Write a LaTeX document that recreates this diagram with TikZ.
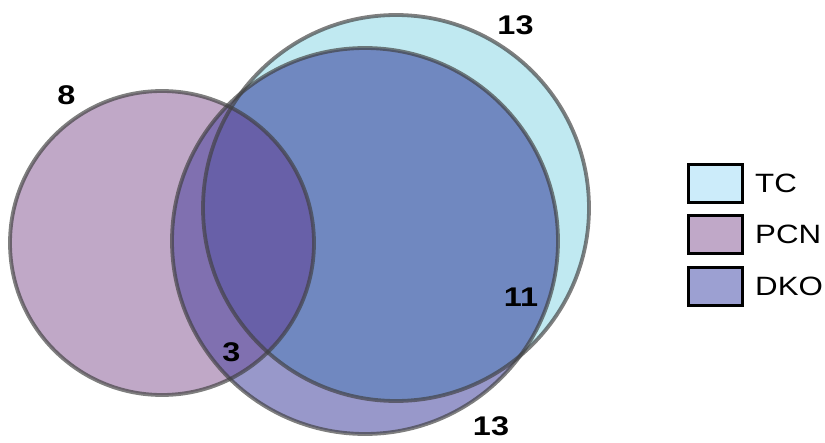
\documentclass[tikz,border=0pt]{standalone}
\usepackage{fontspec}
\setmainfont{Liberation Sans}
\begin{document}
\begin{tikzpicture}[x=1pt,y=-1pt,
  outline/.style={draw=black!75,draw opacity=0.67,line width=3.8pt},
  num/.style={font=\fontsize{27}{27}\selectfont\bfseries,inner sep=0pt,xscale=1.2},
  legbox/.style={draw=black,line width=3pt,minimum width=54pt,minimum height=38pt,inner sep=0pt},
  legtext/.style={font=\fontsize{26.5}{26.5}\selectfont,anchor=west,inner sep=0pt,xscale=1.18}]
\definecolor{tcC}{RGB}{192,233,241}
\definecolor{pcnC}{RGB}{192,168,199}
\definecolor{dkoC}{RGB}{152,152,202}
\definecolor{tcdkoC}{RGB}{112,136,192}
\definecolor{pcndkoC}{RGB}{128,112,176}
\definecolor{tcpcnC}{RGB}{140,120,180}
\definecolor{allC}{RGB}{104,96,168}
\definecolor{legtc}{RGB}{204,236,250}
\definecolor{legpcn}{RGB}{192,168,200}
\definecolor{legdko}{RGB}{156,160,210}
\useasboundingbox (0,0) rectangle (825,442);
\def\TCc{(396,208) circle[radius=193pt]}
\def\PCNc{(162,243) circle[radius=152pt]}
\def\DKOc{(365,241) circle[radius=193pt]}
% base fills
\fill[tcC] \TCc;
\fill[pcnC] \PCNc;
\fill[dkoC] \DKOc;
% overlaps
\begin{scope}\clip \TCc; \fill[tcdkoC] \DKOc; \end{scope}
\begin{scope}\clip \PCNc; \fill[pcndkoC] \DKOc; \end{scope}
\begin{scope}\clip \PCNc; \fill[tcpcnC] \TCc; \end{scope}
\begin{scope}\clip \PCNc; \clip \TCc; \fill[allC] \DKOc; \end{scope}
% outlines
\path[outline] \TCc;
\path[outline] \PCNc;
\path[outline] \DKOc;
% counts
\node[num] (ntc) at (515.5,25) {13};
\node[num] (npcn) at (66.5,95) {8};
\node[num] (ntcdko) at (521,297) {11};
\node[num] (npcndko) at (231.5,352) {3};
\node[num] (ndko) at (491,426) {13};
% legend
\node[legbox,fill=legtc] (ltc) at (715,183) {};
\node[legbox,fill=legpcn] (lpcn) at (715,234) {};
\node[legbox,fill=legdko] (ldko) at (715,286) {};
\node[legtext] (ttc) at (755,183) {TC};
\node[legtext] (tpcn) at (755,234) {PCN};
\node[legtext] (tdko) at (755,286) {DKO};
\end{tikzpicture}
\end{document}
